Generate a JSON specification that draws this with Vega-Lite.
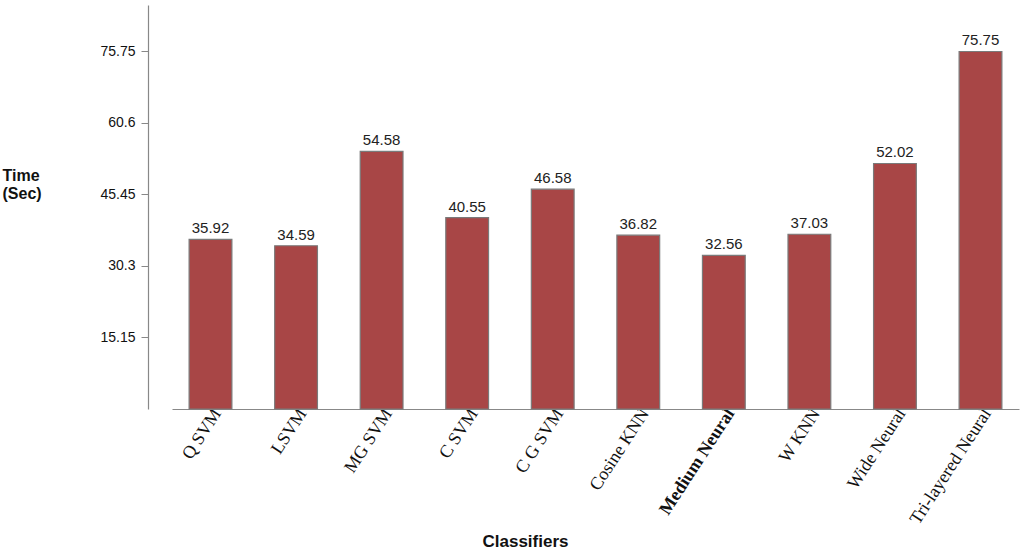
{
  "$schema": "https://vega.github.io/schema/vega-lite/v6.json",
  "autosize": {"type": "none"},
  "padding": {"left": 172, "top": 5, "right": 2, "bottom": 141},
  "width": 847,
  "height": 404,
  "background": "white",
  "config": {"view": {"stroke": null}},
  "data": {"values": [
    {"classifier": "Q SVM", "time": 35.92},
    {"classifier": "LSVM", "time": 34.59},
    {"classifier": "MG SVM", "time": 54.58},
    {"classifier": "C SVM", "time": 40.55},
    {"classifier": "C G SVM", "time": 46.58},
    {"classifier": "Cosine KNN", "time": 36.82},
    {"classifier": "Medium Neural", "time": 32.56},
    {"classifier": "W KNN", "time": 37.03},
    {"classifier": "Wide Neural", "time": 52.02},
    {"classifier": "Tri-layered Neural", "time": 75.75}
  ]},
  "encoding": {
    "x": {
      "field": "classifier", "type": "nominal", "sort": null,
      "scale": {"paddingInner": 0.5, "paddingOuter": 0.2},
      "axis": {
        "title": "Classifiers",
        "titleFont": "Liberation Sans", "titleFontSize": 17, "titleFontWeight": "bold", "titleColor": "#111",
        "titleX": 353, "titleY": 137, "titleAnchor": "middle", "titleBaseline": "alphabetic",
        "labelFont": "Liberation Serif", "labelFontSize": 18, "labelColor": "#111",
        "labelAngle": -57, "labelAlign": "right", "labelBaseline": "middle",
        "labelPadding": 1, "labelOffset": 7,
        "labelFontWeight": {"condition": {"test": "datum.value == 'Medium Neural'", "value": "bold"}, "value": "normal"},
        "ticks": false, "domainColor": "#888", "domainWidth": 1.2, "labelOverlap": false
      }
    },
    "y": {
      "field": "time", "type": "quantitative",
      "scale": {"domain": [0, 85.6], "nice": false},
      "axis": {
        "values": [15.15, 30.3, 45.45, 60.6, 75.75],
        "format": ".4~f",
        "offset": 24,
        "grid": false,
        "title": ["Time", "(Sec)"],
        "titleAngle": 0, "titleAlign": "left", "titleBaseline": "top",
        "titleX": -146, "titleY": 162,
        "titleFont": "Liberation Sans", "titleFontSize": 16, "titleFontWeight": "bold", "titleColor": "#111",
        "labelFont": "Liberation Sans", "labelFontSize": 14, "labelColor": "#111", "labelPadding": 6,
        "tickColor": "#888", "tickSize": 7, "domainColor": "#888", "domainWidth": 1.2
      }
    }
  },
  "layer": [
    {
      "mark": {"type": "bar", "fill": "#a84646", "stroke": "#7a7a7a", "strokeWidth": 1.2}
    },
    {
      "mark": {"type": "text", "baseline": "alphabetic", "dy": -6, "font": "Liberation Sans", "fontSize": 15, "color": "#222"},
      "encoding": {
        "text": {"field": "time", "type": "quantitative", "format": ".2f"},
        "fontWeight": {"condition": {"test": "datum.classifier == 'C G SVM'", "value": "bold"}, "value": "normal"}
      }
    }
  ]
}
